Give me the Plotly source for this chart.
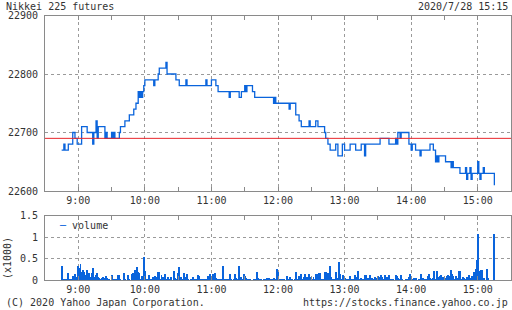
import plotly.graph_objects as go
import pandas as pd

DAY = "2020-07-28 "

# price change points (time, price)
price_times = [
    "08:45", "08:47", "08:48", "08:51", "08:55", "08:57", "08:59", "09:03", "09:08", "09:13",
    "09:14", "09:16", "09:17", "09:18", "09:24", "09:25", "09:26", "09:30", "09:31", "09:32",
    "09:33", "09:37", "09:38", "09:42", "09:46", "09:50", "09:52", "09:54", "09:55", "09:56",
    "09:57", "09:58", "09:59", "10:00", "10:08", "10:09", "10:12", "10:13", "10:19", "10:20",
    "10:28", "10:31", "10:37", "10:38", "10:55", "10:56", "11:00", "11:04", "11:06", "11:16",
    "11:17", "11:25", "11:27", "11:30", "11:31", "11:32", "11:37", "11:39", "11:56", "11:57",
    "11:58", "12:10", "12:11", "12:16", "12:19", "12:21", "12:28", "12:29", "12:34", "12:36",
    "12:42", "12:43", "12:45", "12:47", "12:52", "12:54", "12:58", "13:00", "13:05", "13:10",
    "13:15", "13:18", "13:19", "13:32", "13:40", "13:46", "13:47", "13:48", "13:50", "13:51",
    "13:58", "14:00", "14:01", "14:04", "14:08", "14:09", "14:17", "14:20", "14:22", "14:23",
    "14:24", "14:25", "14:31", "14:36", "14:37", "14:38", "14:44", "14:49", "14:50", "14:51",
    "14:53", "14:54", "14:55", "15:00", "15:01", "15:02", "15:03", "15:05", "15:06", "15:15",
]
price_values = [
    22670, 22680, 22670, 22680, 22700, 22690, 22680, 22710, 22700, 22680,
    22700, 22720, 22690, 22710, 22690, 22700, 22690, 22700, 22690, 22700,
    22690, 22700, 22710, 22720, 22730, 22740, 22750, 22770, 22760, 22770,
    22760, 22770, 22780, 22790, 22780, 22790, 22800, 22810, 22820, 22800,
    22790, 22780, 22790, 22780, 22790, 22780, 22790, 22780, 22770, 22760,
    22770, 22760, 22770, 22780, 22770, 22780, 22770, 22760, 22750, 22760,
    22750, 22740, 22750, 22730, 22720, 22710, 22720, 22710, 22720, 22710,
    22700, 22690, 22680, 22670, 22680, 22660, 22680, 22670, 22680, 22670,
    22680, 22660, 22680, 22690, 22680, 22690, 22680, 22700, 22690, 22700,
    22680, 22670, 22680, 22670, 22660, 22670, 22680, 22670, 22650, 22660,
    22650, 22660, 22650, 22640, 22650, 22640, 22630, 22640, 22620, 22630,
    22640, 22620, 22630, 22650, 22630, 22620, 22630, 22640, 22630, 22610,
]
prev_close = 22690

# per-minute volume from 08:45 to 15:15
vol_start = DAY + "08:45"
volume = [
    330, 40, 40, 0, 40, 0, 170, 30, 30, 10, 90, 90, 140, 80, 20,
    330, 280, 370, 200, 230, 190, 60, 120, 250, 40, 170, 80, 170, 280, 80,
    20, 120, 170, 80, 60, 20, 60, 80, 30, 50, 90, 60, 10, 20, 0,
    120, 40, 0, 10, 20, 0, 120, 120, 10, 0, 0, 170, 30, 0, 0,
    120, 40, 0, 140, 170, 20, 230, 60, 300, 190, 170, 20, 90, 40, 540,
    220, 30, 20, 40, 120, 10, 20, 80, 30, 90, 80, 30, 190, 190, 20,
    120, 80, 20, 140, 40, 10, 80, 20, 10, 80, 0, 220, 60, 30, 10,
    160, 300, 40, 80, 20, 170, 80, 10, 140, 20, 0, 0, 40, 80, 20,
    40, 0, 10, 120, 90, 0, 10, 40, 0, 10, 20, 10, 90, 20, 140,
    10, 140, 10, 170, 60, 10, 20, 10, 0, 20, 330, 40, 10, 20, 10,
    0, 40, 140, 20, 0, 10, 140, 60, 0, 10, 330, 0, 80, 20, 140,
    90, 60, 40, 20, 0, 10, 0, 0, 10, 40, 10, 200, 60, 10, 0,
    20, 0, 10, 0, 20, 60, 0, 60, 10, 0, 40, 60, 10, 0, 270,
    190, 20, 10, 0, 20, 10, 0, 0, 90, 10, 20, 80, 10, 20, 0,
    10, 200, 20, 10, 90, 20, 150, 30, 80, 140, 20, 80, 60, 140, 20,
    80, 10, 80, 20, 140, 140, 30, 170, 170, 20, 10, 20, 190, 190, 80,
    170, 20, 340, 80, 10, 20, 20, 190, 60, 10, 420, 140, 40, 20, 120,
    60, 20, 10, 40, 10, 90, 40, 20, 10, 130, 80, 20, 210, 30, 40,
    60, 30, 20, 120, 120, 60, 40, 60, 120, 40, 60, 20, 80, 60, 40,
    110, 70, 20, 130, 80, 40, 120, 30, 70, 10, 120, 10, 0, 20, 40,
    0, 120, 100, 60, 0, 10, 130, 20, 0, 0, 10, 0, 20, 80, 150,
    10, 20, 10, 60, 60, 0, 0, 10, 0, 150, 40, 60, 10, 20, 0,
    100, 150, 60, 10, 40, 60, 210, 20, 210, 80, 20, 110, 130, 60, 80,
    40, 60, 100, 130, 20, 110, 230, 150, 110, 40, 110, 50, 20, 210, 210,
    40, 20, 80, 60, 40, 80, 40, 120, 40, 60, 110, 80, 190, 270, 470,
    1090, 210, 210, 230, 230, 60, 60, 0, 270, 60, 0, 0, 0, 0, 0, 1070,
]

BLUE = "#0a64dc"
RED = "#e8262b"
GRID = "#9a9a9a"
FRAME = "#8a8a8a"
TXT = "#333333"
FONT = "DejaVu Sans Mono"

p_x = pd.to_datetime([DAY + t for t in price_times])
v_x = pd.date_range(vol_start, periods=len(volume), freq="min")
v_y = [v / 1000 for v in volume]

fig = go.Figure()
fig.add_trace(go.Scatter(x=p_x, y=price_values, mode="lines",
                         line=dict(color=BLUE, width=1.3, shape="hv"),
                         xaxis="x", yaxis="y", showlegend=False, hoverinfo="skip"))
fig.add_trace(go.Bar(x=v_x, y=v_y, marker=dict(color=BLUE, line=dict(width=0)),
                     width=60000 * 0.9, xaxis="x2", yaxis="y2", showlegend=False))

fig.add_shape(type="line", xref="x domain", yref="y", x0=0, x1=1,
              y0=prev_close, y1=prev_close, line=dict(color=RED, width=1))

x_range = [DAY + "08:30", DAY + "15:30"]
xdom = [45 / 512, 511 / 512]
common_x = dict(type="date", range=x_range, domain=xdom, dtick=3600000,
                tick0=DAY + "09:00", tickformat="%-H:%M", automargin=False,
                showgrid=True, gridcolor=GRID, griddash="3px,3px", gridwidth=1,
                showline=True, linecolor=FRAME, linewidth=1, mirror="allticks",
                ticks="inside", ticklen=4, tickcolor=FRAME,
                minor=dict(dtick=1800000, ticks="inside", ticklen=4, tickcolor=FRAME, showgrid=False),
                tickfont=dict(family=FONT, size=10, color=TXT), zeroline=False)

fig.update_layout(
    width=512, height=310, autosize=False,
    margin=dict(l=0, r=0, t=0, b=0, pad=0, autoexpand=False),
    paper_bgcolor="white", plot_bgcolor="white",
    font=dict(family=FONT, size=10, color=TXT),
    bargap=0,
    xaxis=dict(anchor="y", **common_x),
    yaxis=dict(domain=[119 / 310, 294.5 / 310], range=[22600, 22900], dtick=100,
               tickformat="d", automargin=False,
               showgrid=True, gridcolor=GRID, griddash="3px,3px",
               showline=True, linecolor=FRAME, mirror=True, ticks="",
               ticklabelstandoff=4, zeroline=False,
               tickfont=dict(family=FONT, size=10, color=TXT)),
    xaxis2=dict(anchor="y2", **common_x),
    yaxis2=dict(domain=[30 / 310, 94.3 / 310], range=[0, 1.5], automargin=False,
                tickvals=[0, 0.5, 1, 1.5], ticktext=["0", "0.5", "1", "1.5"],
                showgrid=True, gridcolor=GRID, griddash="3px,3px",
                showline=True, linecolor=FRAME, mirror=True, ticks="",
                ticklabelstandoff=4, zeroline=False,
                tickfont=dict(family=FONT, size=10, color=TXT)),
)

ann = dict(xref="paper", yref="paper", showarrow=False,
           font=dict(family=FONT, size=10, color=TXT))
fig.add_annotation(text="Nikkei 225 futures", x=4 / 512, y=1 - 6 / 310,
                   xanchor="left", yanchor="middle", **ann)
fig.add_annotation(text="2020/7/28 15:15", x=510 / 512, y=1 - 6 / 310,
                   xanchor="right", yanchor="middle", **ann)
fig.add_annotation(text="(C) 2020 Yahoo Japan Corporation.", x=4 / 512, y=1 - 302 / 310,
                   xanchor="left", yanchor="middle", **ann)
fig.add_annotation(text="https://stocks.finance.yahoo.co.jp", x=510 / 512, y=1 - 302 / 310,
                   xanchor="right", yanchor="middle", **ann)
fig.add_annotation(text="(x1000)", x=7 / 512, y=1 - 258 / 310, textangle=-90,
                   xanchor="center", yanchor="middle", **ann)
fig.add_annotation(text=f"<span style='color:{BLUE}'>─</span> volume", x=57 / 512, y=1 - 225 / 310,
                   xanchor="left", yanchor="middle", **ann)

fig.write_html("out.html")
